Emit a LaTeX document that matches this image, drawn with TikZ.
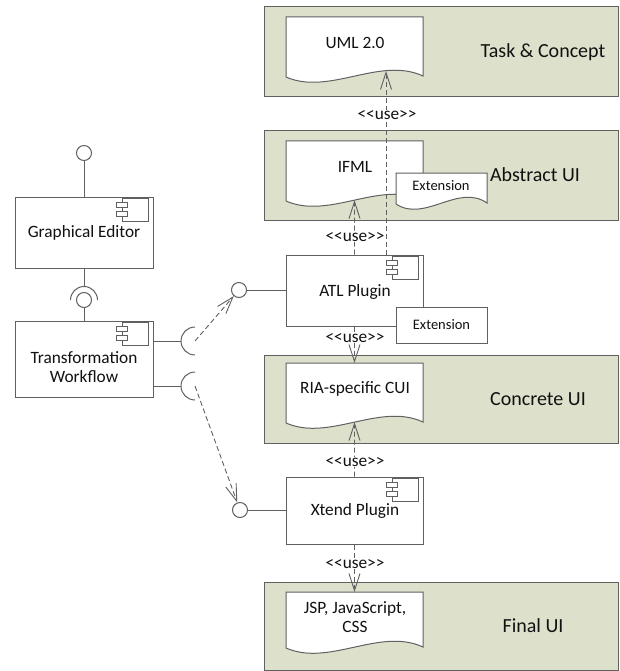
\documentclass[tikz,border=0pt]{standalone}
\usepackage{fontspec}
\setmainfont{Carlito}
\usetikzlibrary{arrows.meta}
\definecolor{layerfill}{HTML}{DDE1CC}
\definecolor{edge}{HTML}{606060}
\definecolor{ink}{HTML}{111111}
\newcommand\usetxt{<\kern0pt<use>\kern0pt>}
\tikzset{
  layer/.style={draw=edge, fill=layerfill, line width=1pt, rectangle, inner sep=0pt},
  comp/.style={draw=edge, fill=white, line width=1pt, rectangle, inner sep=0pt},
  docshape/.style={draw=edge, fill=white, line width=1pt},
  lbl/.style={text=ink, font=\fontsize{17.3}{20}\selectfont, align=center, inner sep=0pt},
  biglbl/.style={text=ink, font=\fontsize{20}{24}\selectfont, inner sep=0pt},
  smalllbl/.style={text=ink, font=\fontsize{14.5}{17}\selectfont, inner sep=0pt},
  uselbl/.style={lbl, fill=white, inner sep=0.5pt},
  wire/.style={draw=edge, line width=1pt},
  dep/.style={draw=edge, line width=0.9pt, dash pattern=on 5pt off 3pt,
    -{Straight Barb[length=17pt,width=11pt,line width=0.9pt]}},
  ball/.style={circle, draw=edge, fill=white, line width=1pt, minimum size=15pt, inner sep=0pt},
}
% component icon at top right of a component node
\newcommand\compicon[1]{%
  \draw[wire, fill=white] ([shift={(-31,2)}]#1.north east) rectangle ([shift={(-5,25)}]#1.north east);
  \draw[wire, fill=white] ([shift={(-37,6)}]#1.north east) rectangle ([shift={(-26,11)}]#1.north east);
  \draw[wire, fill=white] ([shift={(-37,15)}]#1.north east) rectangle ([shift={(-26,20)}]#1.north east);
}
% document sheet: name, x1, top, x2, bottom-left y
\newcommand\docsheet[5]{%
  \path[docshape] (#2,#3) -- (#4,#3) -- (#4,#5-1)
    .. controls ({#4-0.316*(#4-#2)},#5-21) and ({#2+0.316*(#4-#2)},#5+19) .. (#2,#5)
    coordinate[pos=0.5] (#1-mid) coordinate[pos=0.3] (#1-r) -- cycle;
  \coordinate (#1-top) at ({(#2+#4)/2},#3);
}
\begin{document}
\begin{tikzpicture}[x=1pt,y=-1pt]
\useasboundingbox (0,0) rectangle (620,671);

% layers
\node[layer, minimum width=354pt, minimum height=90pt] (tc) at (441,52) {};
\node[layer, minimum width=354pt, minimum height=89pt] (aui) at (441,175.5) {};
\node[layer, minimum width=354pt, minimum height=88pt] (cui) at (441,399) {};
\node[layer, minimum width=354pt, minimum height=88pt] (fui) at (441,626) {};
\node[biglbl] (tc-l) at (543,52) {Task \& Concept};
\node[biglbl] (aui-l) at (535,175) {Abstract UI};
\node[biglbl] (cui-l) at (538,399) {Concrete UI};
\node[biglbl] (fui-l) at (533,626) {Final UI};

% documents
\docsheet{uml}{286}{17}{423}{77}
\node[lbl] (uml-t) at (355,43) {UML 2.0};
\docsheet{ifml}{286}{141}{423}{201}
\node[lbl] (ifml-t) at (355,167) {IFML};
\docsheet{ext}{396}{173}{487}{204}
\node[smalllbl] (ext-t) at (441,186) {Extension};
\docsheet{ria}{286}{363}{423}{423}
\node[lbl] (ria-t) at (355,389) {RIA-specific CUI};
\docsheet{jsp}{286}{592}{423}{648}
\node[lbl] (jsp-t) at (355,617) {JSP, JavaScript,\\[-1pt]CSS};

% components
\node[comp, minimum width=138pt, minimum height=71pt] (ge) at (84,232.5) {};
\node[lbl] (ge-t) at (84,233) {Graphical Editor};
\compicon{ge}
\node[comp, minimum width=138pt, minimum height=76pt] (tw) at (84,359) {};
\node[lbl] (tw-t) at (84,367) {Transformation\\[-1pt]Workflow};
\compicon{tw}
\node[comp, minimum width=137pt, minimum height=71pt] (atl) at (354.5,290.5) {};
\node[lbl] (atl-t) at (355,292) {ATL Plugin};
\compicon{atl}
\node[comp, minimum width=91pt, minimum height=36pt] (extb) at (441.5,325) {};
\node[smalllbl] (extb-t) at (441.5,325) {Extension};
\node[comp, minimum width=137pt, minimum height=67pt] (xt) at (354.5,510.5) {};
\node[lbl] (xt-t) at (355,511) {Xtend Plugin};
\compicon{xt}

% provided / required interfaces
\node[ball] (b0) at (84,153) {};
\draw[wire] (b0) -- (ge);
\node[ball] (b2) at (84,300) {};
\draw[wire] (ge) -- (84,286.5);
\draw[wire] (70.5,300) arc[start angle=180, end angle=0, radius=13.5pt];
\draw[wire] (b2) -- (tw);

\coordinate (s1) at (195,341);
\coordinate (s2) at (195,386);
\draw[wire] (s1 -| tw.east) -- (181,341);
\draw[wire] (195,327) arc[start angle=90, end angle=270, radius=14pt];
\draw[wire] (s2 -| tw.east) -- (181,386);
\draw[wire] (195,372) arc[start angle=90, end angle=270, radius=14pt];

\node[ball] (b1) at (239,290) {};
\node[ball] (b3) at (240,510) {};
\draw[wire] (b1) -- (b1 -| atl.west);
\draw[wire] (b3) -- (b3 -| xt.west);
\draw[dep] (s1) -- (b1);
\draw[dep] (s2) -- (b3);

% <<use>> dependencies
\draw[dep] (atl.north) -- (ifml-mid);
\draw[dep] (atl.south) -- (ria-top);
\draw[dep] (xt.north) -- (ria-mid);
\draw[dep] (xt.south) -- (jsp-top);
\node[uselbl] (u2) at (355,237) {\usetxt};
\node[uselbl] (u3) at (355,338) {\usetxt};
\node[uselbl] (u4) at (355,462) {\usetxt};
\node[uselbl] (u5) at (355,564) {\usetxt};
\coordinate (atl-r) at (386,255);
\draw[dep] (atl-r) -- (atl-r |- uml-r);
\node[uselbl] (u1) at (387,115) {\usetxt};
\end{tikzpicture}
\end{document}
